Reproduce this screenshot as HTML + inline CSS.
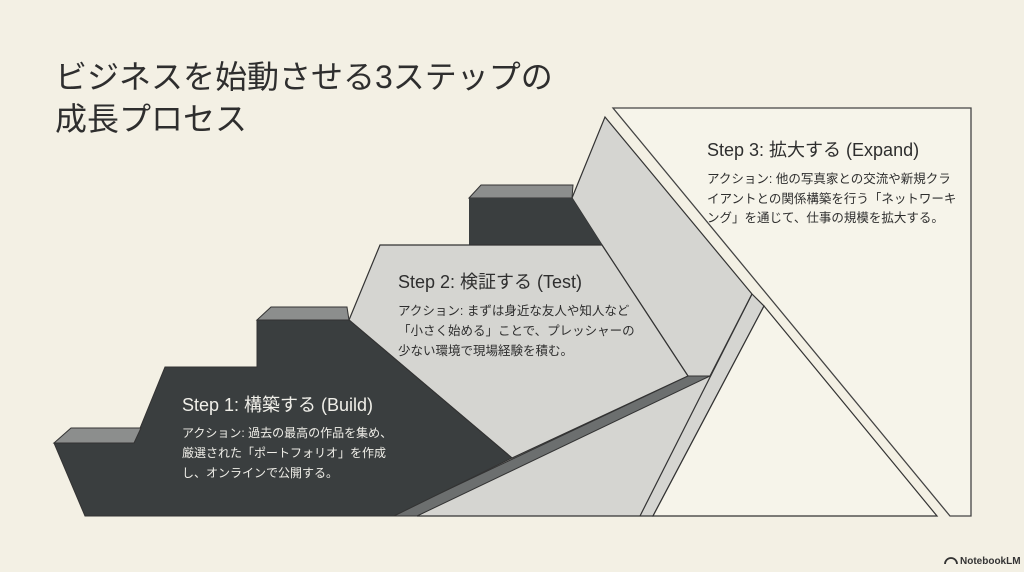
<!DOCTYPE html>
<html><head><meta charset="utf-8"><style>
html,body{margin:0;padding:0;background:#f3f0e4;}
svg{display:block}
text{font-family:"Liberation Sans","Noto Sans CJK JP",sans-serif;}
</style></head><body>
<svg width="1024" height="572" viewBox="0 0 1024 572" xmlns="http://www.w3.org/2000/svg">
<rect width="1024" height="572" fill="#f3f0e4"/>
<text x="55" y="88" font-size="32" fill="#2e2e2e">ビジネスを始動させる3ステップの</text>
<text x="55" y="130" font-size="32" fill="#2e2e2e">成長プロセス</text>

<polygon points="613,108 971,108 971,516 950,516" fill="#f6f4ea" stroke="#444" stroke-width="1.3"/>
<polygon points="605,117 752,294 764,306 653,516 417,516 688,376 602,245 572,198" fill="#d5d5d1" stroke="#333" stroke-width="1.2"/>
<polygon points="764,306 937,516 653,516" fill="#f6f4ea" stroke="#333" stroke-width="1.2"/>
<line x1="752" y1="294" x2="640" y2="516" stroke="#333" stroke-width="1.2"/>
<line x1="752" y1="294" x2="710" y2="376" stroke="#333" stroke-width="1.2"/>
<polygon points="469,198 481,185 573,185 572,198" fill="#8c8e8d" stroke="#333" stroke-width="1"/>
<polygon points="469,198 572,198 602,245 469,245" fill="#3a3e3f"/>
<polygon points="349,320 380,245 602,245 688,376 512,458" fill="#d5d5d1" stroke="#333" stroke-width="1.2"/>
<polygon points="688,376 710,376 417,516 392,516" fill="#6c6f6f" stroke="#333" stroke-width="1"/>
<polygon points="54,443 134,443 165,367 257,367 257,320 349,320 512,458 394,516 85,516" fill="#3a3e3f" stroke="#333" stroke-width="1"/>
<polygon points="54,443 71,428 141,428 134,443" fill="#8c8e8d" stroke="#333" stroke-width="1"/>
<polygon points="257,320 271,307 347,307 349,320" fill="#8c8e8d" stroke="#333" stroke-width="1"/>

<text x="182" y="411" font-size="18" fill="#f0efe9">Step 1: 構築する (Build)</text>
<text font-size="12" fill="#f0efe9"><tspan x="182" y="437">アクション: 過去の最高の作品を集め、</tspan><tspan x="182" y="457">厳選された「ポートフォリオ」を作成</tspan><tspan x="182" y="477">し、オンラインで公開する。</tspan></text>

<text x="398" y="288" font-size="18" fill="#2e2e2e">Step 2: 検証する (Test)</text>
<text font-size="12.5" fill="#2e2e2e"><tspan x="398" y="315">アクション: まずは身近な友人や知人など</tspan><tspan x="398" y="335">「小さく始める」ことで、プレッシャーの</tspan><tspan x="398" y="355">少ない環境で現場経験を積む。</tspan></text>

<text x="707" y="156" font-size="18" fill="#2e2e2e">Step 3: 拡大する (Expand)</text>
<text font-size="12.5" fill="#2e2e2e"><tspan x="707" y="183">アクション: 他の写真家との交流や新規クラ</tspan><tspan x="707" y="203">イアントとの関係構築を行う「ネットワーキ</tspan><tspan x="707" y="222">ング」を通じて、仕事の規模を拡大する。</tspan></text>

<text x="960" y="564" font-size="10" font-weight="bold" fill="#333">NotebookLM</text>
<path d="M945 564 a6 6 0 0 1 12 0" fill="none" stroke="#333" stroke-width="1.8"/>
</svg>
</body></html>
